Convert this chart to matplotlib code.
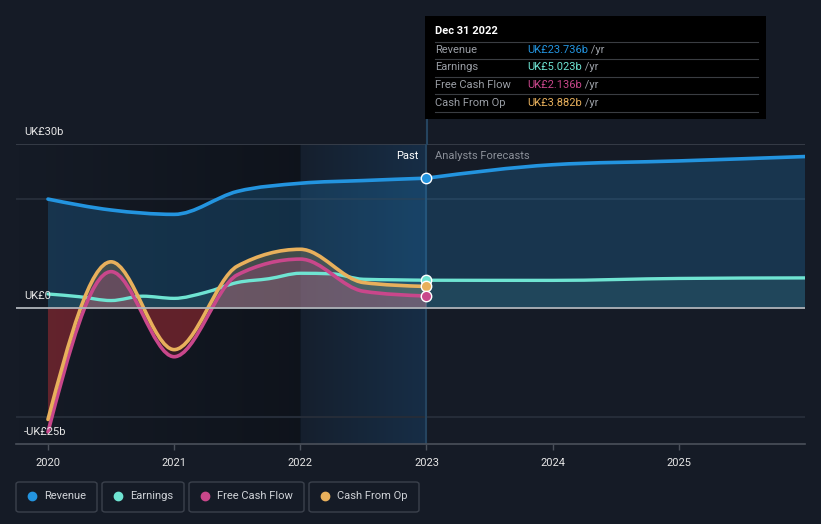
import numpy as np
import matplotlib
matplotlib.use('Agg')
import matplotlib.pyplot as plt
from matplotlib.path import Path
from matplotlib.patches import PathPatch, Rectangle, FancyBboxPatch
from matplotlib.lines import Line2D
from matplotlib.text import Annotation

plt.rcParams['font.family'] = ['Roboto', 'DejaVu Sans']

# Datos (miles de millones de libras)
anios_sem = [2020, 2020.5, 2021, 2021.5, 2022, 2022.5, 2023]
revenue = [19.9, 17.9, 17.1, 21.3, 22.8, 23.3, 23.736]
fcf = [-22.8, 6.6, -9.0, 6.0, 8.9, 3.0, 2.136]
cfo = [-20.5, 8.4, -7.7, 7.6, 10.7, 4.6, 3.882]

anios_trim = [2020, 2020.25, 2020.5, 2020.75, 2021, 2021.25, 2021.5, 2021.75,
              2022, 2022.25, 2022.5, 2022.75, 2023]
earnings = [2.5, 2.0, 1.3, 2.1, 1.7, 2.8, 4.6, 5.3, 6.3, 6.2, 5.2, 5.1, 5.023]

anios_futuro = [2023, 2024, 2025, 2026]
revenue_fut = [23.736, 26.2, 26.9, 27.7]
earnings_fut = [5.023, 5.0, 5.35, 5.45]

ticks = [2020, 2021, 2022, 2023, 2024, 2025]

# Colores
BG = '#151b26'
C_REV = '#2394df'
C_EARN = '#6fe4d2'
C_FCF = '#c9478b'
C_CFO = '#e8b05c'

W, H = 821, 524


def fx(px):
    return px / W


def fy(py):
    return 1 - py / H


def curva(xs, ys):
    # curva monotona (tipo d3 monotoneX) pasada a bezier
    x = np.asarray(xs, float)
    y = np.asarray(ys, float)
    n = len(x)
    h = np.diff(x)
    s = np.diff(y) / h
    t = np.zeros(n)
    for i in range(1, n - 1):
        p = (s[i - 1] * h[i] + s[i] * h[i - 1]) / (h[i - 1] + h[i])
        t[i] = (np.sign(s[i - 1]) + np.sign(s[i])) * min(abs(s[i - 1]), abs(s[i]), 0.5 * abs(p))
    if n > 2:
        t[0] = (3 * s[0] - t[1]) / 2
        t[-1] = (3 * s[-1] - t[-2]) / 2
    else:
        t[:] = s[0]
    verts = [(x[0], y[0])]
    codes = [Path.MOVETO]
    for i in range(n - 1):
        dx = h[i] / 3
        verts += [(x[i] + dx, y[i] + dx * t[i]), (x[i + 1] - dx, y[i + 1] - dx * t[i + 1]), (x[i + 1], y[i + 1])]
        codes += [Path.CURVE4] * 3
    return verts, codes


def unir(xa, ya, xb, yb):
    va, ca = curva(xa, ya)
    vb, cb = curva(xb, yb)
    return va + vb[1:], ca + cb[1:]


def linea(ax, vc, color, lw=2.2, z=5):
    v, c = vc
    ax.add_patch(PathPatch(Path(v, c), fill=False, edgecolor=color, lw=lw,
                           zorder=z, capstyle='round', joinstyle='round'))


def relleno(ax, vc, color, alpha, z=2, clip=None):
    v, c = vc
    v = v + [(v[-1][0], 0), (v[0][0], 0), (v[0][0], 0)]
    c = c + [Path.LINETO, Path.LINETO, Path.CLOSEPOLY]
    p = PathPatch(Path(v, c), facecolor=color, edgecolor='none', alpha=alpha, zorder=z)
    ax.add_patch(p)
    if clip is not None:
        r = Rectangle((clip[0], clip[1]), clip[2], clip[3], transform=ax.transData)
        p.set_clip_path(r)
    return p


fig = plt.figure(figsize=(W / 100, H / 100), dpi=100)
fig.patch.set_facecolor(BG)
ax = fig.add_axes([fx(16), fy(444), (805 - 16) / W, (444 - 144) / H])
ax.set_facecolor(BG)
x0 = 2020 - 32 / 126.3
ax.set_xlim(x0, 2026)
ax.set_ylim(-25, 30)

# Sombreado del pasado
grad = np.zeros((2, 256, 4))
grad[..., 0] = 0.03
grad[..., 1] = 0.04
grad[..., 2] = 0.06
grad[..., 3] = np.linspace(0.0, 0.45, 256)[None, :]
ax.imshow(grad, extent=[x0, 2022, -25, 30], aspect='auto', zorder=0, interpolation='bilinear')

# Banda azul del hover
grad2 = np.zeros((2, 256, 4))
grad2[..., 0] = 0.10
grad2[..., 1] = 0.32
grad2[..., 2] = 0.52
grad2[..., 3] = np.linspace(0.08, 0.35, 256)[None, :]
ax.imshow(grad2, extent=[2022, 2023, -25, 30], aspect='auto', zorder=0.5, interpolation='bilinear')

# Lineas de grilla
for yv in [20, -20]:
    ax.axhline(yv, color='#252c38', lw=1.5, zorder=1)
ax.axhline(30, color='#3b414c', lw=1.2, zorder=1)
ax.axvline(2023, color='#25445f', lw=1.5, zorder=1)
fig.add_artist(Line2D([fx(427), fx(427)], [fy(117), fy(144)], color='#25445f', lw=1.5))

# Curvas
vc_rev = unir(anios_sem, revenue, anios_futuro, revenue_fut)
vc_earn = unir(anios_trim, earnings, anios_futuro, earnings_fut)
vc_fcf = curva(anios_sem, fcf)
vc_cfo = curva(anios_sem, cfo)

# Rellenos
relleno(ax, vc_rev, C_REV, 0.22, z=1.5)
relleno(ax, vc_earn, C_EARN, 0.10, z=1.6)

pos = (x0, 0, 10, 40)
neg = (x0, -40, 10, 40)
relleno(ax, vc_cfo, C_CFO, 0.22, z=2, clip=pos)
relleno(ax, vc_fcf, C_FCF, 0.25, z=2.1, clip=pos)
relleno(ax, vc_cfo, '#9a2a32', 0.45, z=2, clip=neg)
relleno(ax, vc_fcf, '#9a2a32', 0.25, z=2.1, clip=neg)

# Lineas
linea(ax, vc_rev, C_REV, lw=2.6, z=4)
linea(ax, vc_earn, C_EARN, lw=2.4, z=3)
linea(ax, vc_fcf, C_FCF, lw=2.6, z=4.2)
linea(ax, vc_cfo, C_CFO, lw=2.6, z=4.3)

ax.axhline(0, color='#b0b4ba', lw=1.3, zorder=4.5)

# Puntos en Dec 31 2022
for val, col in [(revenue[-1], C_REV), (earnings[-1], C_EARN), (cfo[-1], C_CFO), (fcf[-1], C_FCF)]:
    ax.plot([2023], [val], 'o', ms=7.5, mfc=col, mec='white', mew=1.0, zorder=6, clip_on=False)

# Ejes
for s in ['top', 'right', 'left']:
    ax.spines[s].set_visible(False)
ax.spines['bottom'].set_color('#4a505a')
ax.spines['bottom'].set_linewidth(1.2)
ax.set_yticks([])
ax.set_xticks(ticks)
ax.set_xticklabels([str(t) for t in ticks])
ax.tick_params(axis='x', colors='#4a505a', length=4, width=1, pad=6, labelsize=8, labelcolor='#e6e6e6')

# Etiquetas eje y
for txt, py in [('UK£30b', 132), ('UK£0', 296), ('-UK£25b', 432)]:
    fig.text(fx(24), fy(py), txt, color='#e6e6e6', fontsize=8, va='center', ha='left', zorder=10)

fig.text(fx(418), fy(156), 'Past', color='#ffffff', fontsize=8, va='center', ha='right')
fig.text(fx(435), fy(156), 'Analysts Forecasts', color='#8b9099', fontsize=8, va='center', ha='left')

# Tooltip
fig.add_artist(Rectangle((fx(425), fy(119)), (766 - 425) / W, (119 - 16) / H,
                         transform=fig.transFigure, facecolor='#000000', edgecolor='none', zorder=20))
fig.text(fx(435), fy(31), 'Dec 31 2022', color='white', fontsize=8, fontweight='bold',
         va='center', ha='left', zorder=21)
for py in [41.5, 59, 76.5, 94, 111.5]:
    fig.add_artist(Line2D([fx(435), fx(758)], [fy(py), fy(py)], color='#3a3d42', lw=0.8, zorder=21))
filas = [('Revenue', 'UK£23.736b', C_REV), ('Earnings', 'UK£5.023b', C_EARN),
         ('Free Cash Flow', 'UK£2.136b', C_FCF), ('Cash From Op', 'UK£3.882b', C_CFO)]
for i, (lab, val, col) in enumerate(filas):
    py = 50 + i * 17.5
    fig.text(fx(435), fy(py), lab, color='#9a9ea5', fontsize=8, va='center', ha='left', zorder=21)
    t = fig.text(fx(527), fy(py), val, color=col, fontsize=8, va='center', ha='left', zorder=21)
    a = Annotation(' /yr', xy=(1, 0.5), xycoords=t, color='#9a9ea5', fontsize=8,
                   va='center', ha='left', annotation_clip=False)
    a.set_zorder(21)
    fig.add_artist(a)

# Leyenda
items = [('Revenue', C_REV, 16, 97), ('Earnings', C_EARN, 102, 184),
         ('Free Cash Flow', C_FCF, 189, 304), ('Cash From Op', C_CFO, 309, 419)]
for lab, col, xa, xb in items:
    fig.add_artist(FancyBboxPatch((fx(xa), fy(512)), (xb - xa) / W, 30 / H,
                                  boxstyle='round,pad=0,rounding_size=0.004',
                                  transform=fig.transFigure, facecolor='none',
                                  edgecolor='#3b414c', lw=1))
    fig.add_artist(Line2D([fx(xa + 16)], [fy(496)], marker='o', ms=6, color=col, mec=col))
    fig.text(fx(xa + 28), fy(496), lab, color='#d0d3d8', fontsize=8, va='center', ha='left')

fig.savefig('out.png', dpi=100, facecolor=BG)
